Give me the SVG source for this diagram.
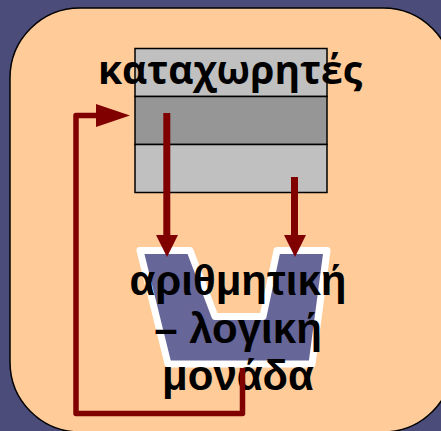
<svg xmlns="http://www.w3.org/2000/svg" width="441" height="431" viewBox="0 0 441 431">
<style>
.lbl{font-family:"Liberation Sans",Arial,sans-serif;font-weight:bold;font-size:42px;fill:#000;text-anchor:middle}
.top{font-family:"Open Sans","Liberation Sans",sans-serif;font-size:39px}
.cell{stroke:#000;stroke-width:1.5}
.wire{fill:none;stroke:#800000;stroke-width:5.5;stroke-linejoin:round;stroke-linecap:butt}
.thick{stroke-width:7}
.head{fill:#800000}
</style>
<rect width="441" height="431" fill="#4c4c7a"/>
<rect id="panel" x="10" y="8" width="443" height="424" rx="70" ry="70" fill="#ffcc99" stroke="#000" stroke-width="1.5"/>
<g id="register">
<rect class="cell" x="135" y="48.500" width="192" height="48" fill="#c0c0c0"/>
<rect class="cell" x="135" y="96.500" width="192" height="48" fill="#969696"/>
<rect class="cell" x="135" y="144.500" width="192" height="48" fill="#c0c0c0"/>
</g>
<g id="alu">
<polygon points="140,250.500 190,250.500 215,316.500 263,316.500 277,250.500 327,250.500 312,364 168,364" fill="#666699" stroke="#fff" stroke-width="7" stroke-linejoin="round"/>
</g>
<g id="labels">
<text class="lbl top" x="230" y="84">καταχωρητές</text>
<text class="lbl" x="238" y="295">αριθμητική</text>
<text class="lbl" x="238" y="343">– λογική</text>
<text class="lbl" x="238" y="390">μονάδα</text>
</g>
<g id="connectors">
<path class="wire" d="M242.500 368V413.500H76V115.500H100"/>
<polygon class="head" points="96,104 130,115.500 96,127"/>
<path class="wire thick" d="M166.800 113V238"/>
<polygon class="head" points="156,235 178,235 167,257"/>
<path class="wire thick" d="M294.500 177V238"/>
<polygon class="head" points="284,235 306,235 295,257"/>
</g>
</svg>
